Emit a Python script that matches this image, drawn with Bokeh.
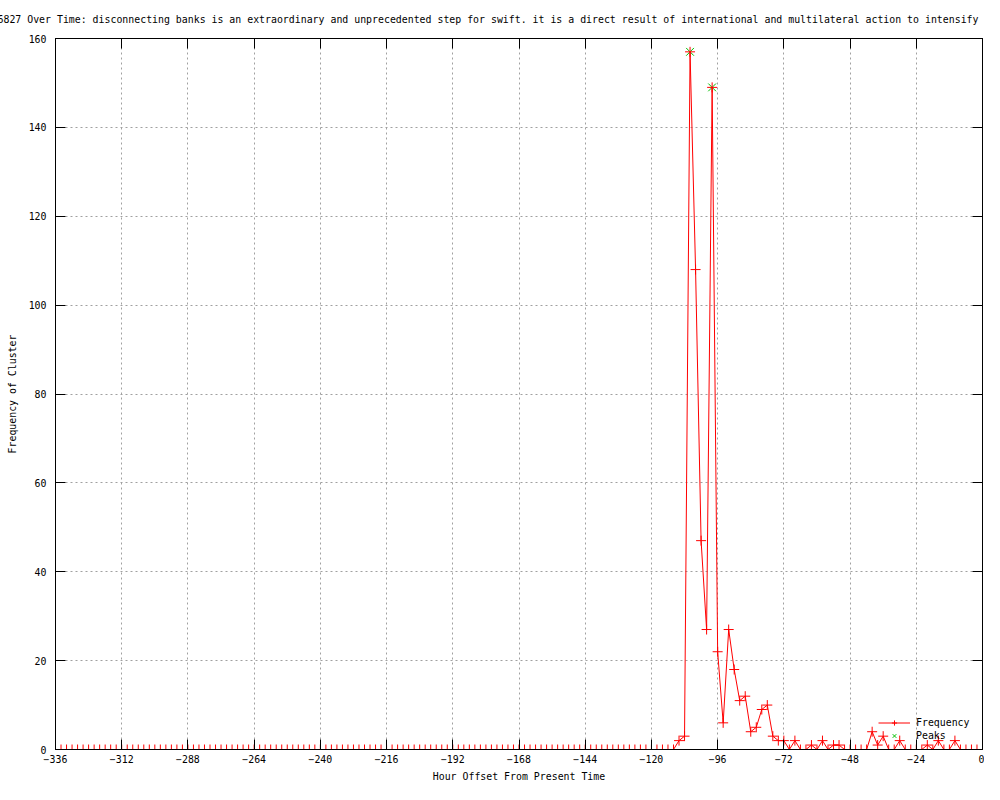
from bokeh.plotting import figure
from bokeh.models import Range1d, FixedTicker, LinearAxis, Legend, LegendItem
from bokeh.embed import file_html
from bokeh.resources import INLINE

FONT = "DejaVu Sans Mono"
FS = "9.9px"

title_text = ("6827 Over Time: disconnecting banks is an extraordinary and unprecedented step "
              "for swift. it is a direct result of international and multilateral action to intensify fi")
x_label = "Hour Offset From Present Time"
y_label = "Frequency of Cluster"

# hour offsets (2-hour bins) and frequencies
hours = list(range(-336, 2, 2))
freq = [
    0, 0, 0, 0, 0, 0, 0, 0, 0, 0, 0, 0, 0, 0, 0, 0, 0, 0, 0, 0,
    0, 0, 0, 0, 0, 0, 0, 0, 0, 0, 0, 0, 0, 0, 0, 0, 0, 0, 0, 0,
    0, 0, 0, 0, 0, 0, 0, 0, 0, 0, 0, 0, 0, 0, 0, 0, 0, 0, 0, 0,
    0, 0, 0, 0, 0, 0, 0, 0, 0, 0, 0, 0, 0, 0, 0, 0, 0, 0, 0, 0,
    0, 0, 0, 0, 0, 0, 0, 0, 0, 0, 0, 0, 0, 0, 0, 0, 0, 0, 0, 0,
    0, 0, 0, 0, 0, 0, 0, 0, 0, 0, 0, 0, 0,
    2, 3, 157, 108, 47, 27, 149, 22, 6, 27, 18, 11, 12, 4, 5, 9, 10, 3, 2, 2,
    0, 2, 0, 0, 1, 0, 2, 0, 1, 1, 0, 0, 0, 0, 0, 4, 1, 3, 0, 0,
    2, 0, 0, 0, 0, 1, 0, 2, 0, 0, 2, 0, 0, 0, 0, 0,
]
peak_hours = [-106, -98]
peak_vals = [157, 149]

x_ticks = [-336, -312, -288, -264, -240, -216, -192, -168, -144, -120, -96, -72, -48, -24, 0]
y_ticks = [0, 20, 40, 60, 80, 100, 120, 140, 160]

p = figure(width=984, height=784, output_backend="svg", toolbar_location=None,
           x_range=Range1d(-336, 0), y_range=Range1d(0, 160),
           min_border_left=55, min_border_right=2, min_border_top=38, min_border_bottom=32,
           background_fill_color="white", border_fill_color="white")

p.outline_line_color = "black"
p.outline_line_width = 1
p.outline_line_alpha = 1

# title
p.title.text = title_text
p.title.align = "left"
p.title.offset = -58
p.title.vertical_align = "top"
p.title.text_font = FONT
p.title.text_font_size = FS
p.title.text_font_style = "normal"
p.title.text_color = "black"
p.title.standoff = 24

# axes
for ax in (p.xaxis[0], p.yaxis[0]):
    ax.major_tick_in = 10
    ax.major_tick_out = 0
    ax.minor_tick_in = 0
    ax.minor_tick_out = 0
    ax.axis_line_color = "black"
    ax.major_tick_line_color = "black"
    ax.major_label_text_font = FONT
    ax.major_label_text_font_size = FS
    ax.major_label_text_color = "black"
    ax.axis_label_text_font = FONT
    ax.axis_label_text_font_size = FS
    ax.axis_label_text_font_style = "normal"
    ax.axis_label_text_color = "black"

p.xaxis[0].ticker = FixedTicker(ticks=x_ticks)
p.yaxis[0].ticker = FixedTicker(ticks=y_ticks)
p.xaxis[0].axis_label = x_label
p.yaxis[0].axis_label = y_label
p.xaxis[0].major_label_standoff = 5
p.xaxis[0].axis_label_standoff = 5
p.yaxis[0].major_label_standoff = 9
p.yaxis[0].axis_label_standoff = 8

# mirrored tick marks on top and right (no labels)
top = LinearAxis(ticker=FixedTicker(ticks=x_ticks),
                 major_label_overrides={t: "" for t in x_ticks},
                 major_tick_in=10, major_tick_out=0, minor_tick_in=0, minor_tick_out=0,
                 major_label_standoff=0, axis_line_color="black")
right = LinearAxis(ticker=FixedTicker(ticks=y_ticks),
                   major_label_overrides={t: "" for t in y_ticks},
                   major_tick_in=10, major_tick_out=0, minor_tick_in=0, minor_tick_out=0,
                   major_label_standoff=0, axis_line_color="black")
p.add_layout(top, "above")
p.add_layout(right, "right")

# grid
p.xgrid.ticker = FixedTicker(ticks=x_ticks)
p.ygrid.ticker = FixedTicker(ticks=y_ticks)
for g in (p.xgrid[0], p.ygrid[0]):
    g.grid_line_color = "#a0a0a0"
    g.grid_line_dash = "2 3"
    g.grid_line_width = 1

# data
peak_r = p.scatter(peak_hours, peak_vals, marker="x", size=11, line_color="#00c000", line_width=1)
line_r = p.line(hours, freq, line_color="#ff0000", line_width=1)
cross_r = p.scatter(hours, freq, marker="cross", size=10, line_color="#ff0000", line_width=1)

legend = Legend(items=[LegendItem(label="Frequency", renderers=[line_r, cross_r]),
                       LegendItem(label="Peaks", renderers=[peak_r])],
                location=(823, 7), orientation="vertical",
                label_text_font=FONT, label_text_font_size=FS, label_text_color="black",
                label_height=13, glyph_height=13, glyph_width=32, label_standoff=6,
                spacing=0, padding=0, margin=0,
                background_fill_alpha=0, border_line_alpha=0)
p.add_layout(legend, "center")

open("out.html", "w").write(file_html(p, INLINE))
